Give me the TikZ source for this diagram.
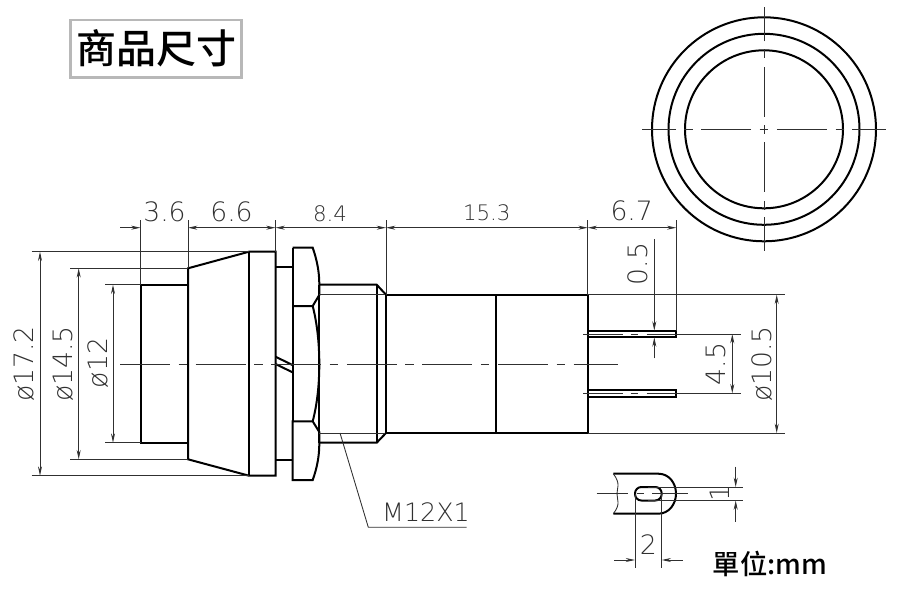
\documentclass[tikz,border=0pt]{standalone}
\usepackage{fontspec}
\usepackage{tikz}
\usetikzlibrary{arrows.meta}
\setmainfont{DejaVu Sans ExtraLight}
\newfontfamily\cjk{Noto Sans CJK TC Medium}

\definecolor{boxgray}{HTML}{B8B8B8}
\definecolor{dimgray}{HTML}{303030}

\tikzset{
  outline/.style={line width=1.5pt,line join=miter},
  thinline/.style={line width=.65pt,color=dimgray},
  centerline/.style={thinline,dash pattern=on 37.5pt off 6.4pt on 6.4pt off 6.4pt},
  dimline/.style={thinline,{Stealth[length=7pt,width=3pt]}-{Stealth[length=7pt,width=3pt]}},
  dimto/.style={thinline,-{Stealth[length=7pt,width=3pt]}},
  dimtext/.style={inner sep=0pt,text=dimgray,font=\fontsize{20}{20}\selectfont},
  smalltext/.style={dimtext,font=\fontsize{16}{16}\selectfont}
}

\begin{document}
\begin{tikzpicture}[x=.75pt,y=-.75pt]
    \useasboundingbox (0,0) rectangle (900,600);

    % title
    \node[draw=boxgray,line width=2pt,minimum width=128pt,minimum height=43pt,inner sep=0pt,
      font=\cjk\fontsize{30}{30}\selectfont] (title) at (156,48.5) {商品尺寸};

    % front view
    \foreach \r in {79,95.5,112}
        \draw[outline] (764,129.3) circle (\r);
    \foreach \a/\b in {-4.3/4.3,12.8/62.8,71.5/80.2,88/122,-12.8/-62.8,-71.5/-80.2,-88/-122} {
        \draw[thinline] (764+\a,129.3) -- (764+\b,129.3);
        \draw[thinline] (764,129.3+\a) -- (764,129.3+\b);
    }

    % button, cone and flange
    \draw[outline] (188,284.7) -- (140.5,284.7) -- (140.5,442.7) -- (188,442.7);
    \draw[outline] (188,268.3) -- (249,251.7) -- (275.5,251.7) -- (275.5,475.7)
      -- (249,475.7) -- (188,459.3) -- cycle;
    \draw[outline] (249,251.7) -- (249,475.7);

    % neck
    \draw[outline] (275.5,267.3) -- (292.5,267.3);
    \draw[outline] (275.5,460) -- (292.5,460);
    \draw[outline] (275.5,356.7) -- (292.5,365);
    \draw[outline] (275.5,364) -- (292.5,372.3);

    % nut
    \draw[outline] (292.5,247.7) -- (312.7,247.7)
      .. controls (317,260) and (319.3,272) .. (319.3,284)
      -- (319.3,295) -- (312.7,306) -- (292.5,306);
    \draw[outline] (312.7,306) .. controls (317.5,325) and (319.3,345) .. (319.3,364)
      .. controls (319.3,383) and (317.5,403) .. (312.7,421.3);
    \draw[outline] (292.5,421.3) -- (312.7,421.3) -- (319.3,432) -- (319.3,444)
      .. controls (319.3,456) and (317,468) .. (312.7,480) -- (292.5,480) -- cycle;
    \draw[outline] (292.5,247.7) -- (292.5,421.3);

    % thread
    \draw[outline] (319.3,284.7) -- (376.7,284.7) -- (386,294.7);
    \draw[outline] (319.3,442.7) -- (376.7,442.7) -- (386,433);
    \draw[outline] (319.3,284.7) -- (319.3,442.7);
    \draw[outline] (376.7,284.7) -- (376.7,442.7);
    \draw[thinline] (319.3,294.7) -- (386,294.7);
    \draw[thinline] (319.3,433) -- (386,433);

    % body and pins
    \draw[outline] (386,294.7) rectangle (587.7,433);
    \draw[outline] (495.7,294.7) -- (495.7,433);
    \foreach \y in {334,393.3} {
        \draw[outline] (587.7,\y-3.4) -- (676.3,\y-3.4) -- (676.3,\y+3.4) -- (587.7,\y+3.4);
        \draw[thinline] (583,\y) -- (622.7,\y);
        \draw[thinline] (630.7,\y) -- (638.3,\y);
        \draw[thinline] (646.7,\y) -- (676,\y);
    }

    \draw[centerline] (120,364) -- (618,364);

    % extension lines
    \draw[thinline] (140.5,220) -- (140.5,284.7);
    \draw[thinline] (188,220) -- (188,268.3);
    \draw[thinline] (275.5,220) -- (275.5,251.7);
    \draw[thinline] (386,220) -- (386,294.7);
    \draw[thinline] (587.7,220) -- (587.7,294.7);
    \draw[thinline] (676.3,220) -- (676.3,330.6);
    \draw[thinline] (31.7,251.7) -- (249,251.7);
    \draw[thinline] (31.7,475.7) -- (249,475.7);
    \draw[thinline] (70,268.3) -- (188,268.3);
    \draw[thinline] (70,459.3) -- (188,459.3);
    \draw[thinline] (105,284.7) -- (140.5,284.7);
    \draw[thinline] (105,442.7) -- (140.5,442.7);
    \draw[thinline] (587.7,294.7) -- (785,294.7);
    \draw[thinline] (587.7,433) -- (785,433);
    \draw[thinline] (676.3,334) -- (740.7,334);
    \draw[thinline] (676.3,393.3) -- (740.7,393.3);

    % dimensions
    \draw[dimto] (120,227.7) -- (140.5,227.7);
    \draw[dimline] (188,227.7) -- (275.5,227.7);
    \draw[dimline] (275.5,227.7) -- (386,227.7);
    \draw[dimline] (386,227.7) -- (587.7,227.7);
    \draw[dimline] (587.7,227.7) -- (676.3,227.7);
    \draw[dimline] (40,251.7) -- (40,475.7);
    \draw[dimline] (78.7,268.3) -- (78.7,459.3);
    \draw[dimline] (113,284.7) -- (113,442.7);
    \draw[dimto] (654.3,239.3) -- (654.3,330.6);
    \draw[dimto] (654.3,358.3) -- (654.3,337.4);
    \draw[dimline] (732.3,334) -- (732.3,393.3);
    \draw[dimline] (776.7,294.7) -- (776.7,433);

    \node[dimtext] (dimA) at (164.5,211.7) {3.6};
    \node[dimtext] (dimB) at (231.5,212) {6.6};
    \node[smalltext] (dimC) at (330,214) {8.4};
    \node[smalltext] (dimD) at (486.8,213) {15.3};
    \node[dimtext] (dimE) at (631.7,210.7) {6.7};
    \node[dimtext,rotate=90] (dimF) at (638,264) {0.5};
    \node[dimtext,rotate=90] (dimG) at (715.7,364) {4.5};
    \node[dimtext,rotate=90] (dimH) at (761.7,364) {ø10.5};
    \node[dimtext,rotate=90] (diaA) at (24,364) {ø17.2};
    \node[dimtext,rotate=90] (diaB) at (63,364) {ø14.5};
    \node[dimtext,rotate=90] (diaC) at (98,363) {ø12};

    % thread leader
    \node[dimtext,font=\fontsize{19}{19}\selectfont] (thread) at (426,511.7) {M12X1};
    \draw[thinline] (340,433) -- (368.3,527.3) -- (466.7,527.3);

    % terminal detail
    \draw[outline] (613.3,473.7) -- (658.3,473.7)
      .. controls (669,473.7) and (676,483) .. (676,493.7)
      .. controls (676,504) and (669,513.7) .. (658.3,513.7) -- (613.3,513.7);
    \draw[thinline] (613.3,473.7) .. controls (621,484) and (617,488) .. (617,493.7)
      .. controls (617,500) and (621,504) .. (613.3,513.7);
    \draw[outline,rounded corners=4.8pt] (635,487) rectangle (661.7,500.5);
    \draw[thinline] (596.7,493.7) -- (628,493.7);
    \draw[thinline] (637,493.7) -- (644,493.7);
    \draw[thinline] (652,493.7) -- (688,493.7);
    \draw[thinline] (648,487) -- (743,487);
    \draw[thinline] (648,500.5) -- (743,500.5);
    \draw[thinline] (635,493.7) -- (635,568);
    \draw[thinline] (661.7,493.7) -- (661.7,568);
    \draw[dimto] (735.7,466.7) -- (735.7,487);
    \draw[dimto] (735.7,521.7) -- (735.7,500.5);
    \draw[dimto] (614.3,560) -- (635,560);
    \draw[dimto] (682.7,560) -- (661.7,560);
    \node[dimtext,rotate=90] (dimJ) at (720,493.3) {1};
    \node[dimtext] (dimK) at (648.3,544.3) {2};

    \node[inner sep=0pt,font=\cjk\fontsize{20.5}{20.5}\selectfont] (unit) at (770,563.5) {單位:mm};

\end{tikzpicture}
\end{document}
